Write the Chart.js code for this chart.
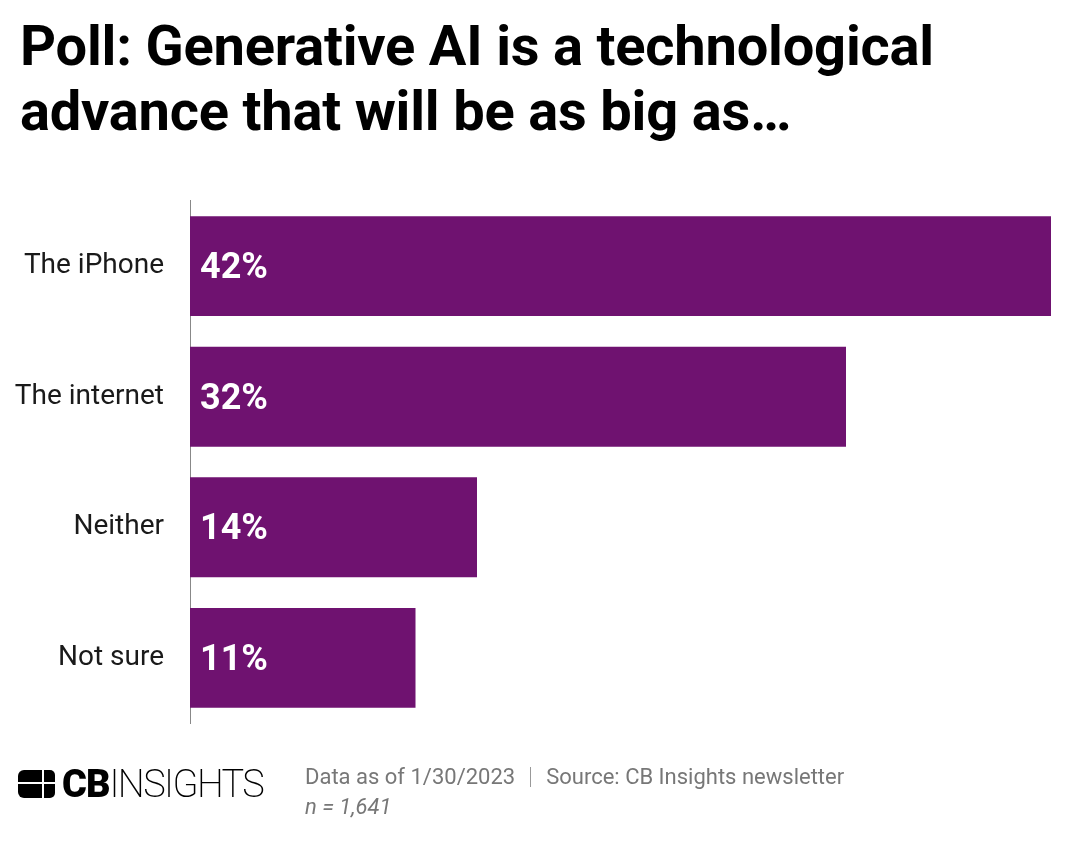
<!DOCTYPE html>
<html>
<head>
<meta charset="utf-8">
<script src="https://cdn.jsdelivr.net/npm/chart.js@4"></script>
<style>
  html, body { margin: 0; padding: 0; background: #fff; }
  body { width: 1080px; height: 845px; position: relative; overflow: hidden; font-family: Roboto, "Noto Sans", sans-serif; }
  #title { position: absolute; left: 20px; top: 14px; margin: 0; font-size: 56px; font-weight: 700; line-height: 65px; color: #000; letter-spacing: -0.2px; }
  #chart-wrap { position: absolute; left: 0; top: 158px; width: 1080px; height: 608px; }
  #logo { position: absolute; left: 18px; top: 765px; height: 38px; display: flex; align-items: center; }
  #logo .icon { width: 37px; height: 28px; position: relative; margin-right: 7px; }
  #logo .icon span { position: absolute; background: #000; }
  #logo .word { font-size: 38px; letter-spacing: -1px; color: #000; line-height: 38px; }
  #logo .word b { font-weight: 900; }
  #logo .word span { font-weight: 200; letter-spacing: -1.6px; }
  #note { position: absolute; left: 305px; top: 762px; font-size: 22px; color: #777; line-height: 30px; }
  #note .sep { display: inline-block; width: 1px; height: 20px; background: #999; margin: 0 15px; vertical-align: -3px; }
</style>
</head>
<body>
<h1 id="title">Poll: Generative AI is a technological<br>advance that will be as big as…</h1>
<div id="chart-wrap"><canvas id="poll-chart"></canvas></div>
<div id="logo">
  <div class="icon">
    <span style="left:0;top:0;width:24px;height:12px;border-top-left-radius:6px;"></span>
    <span style="left:26px;top:0;width:11px;height:12px;border-top-right-radius:5px;"></span>
    <span style="left:0;top:14px;width:24px;height:14px;border-bottom-left-radius:6px;"></span>
    <span style="left:26px;top:14px;width:11px;height:14px;border-bottom-right-radius:5px;"></span>
  </div>
  <div class="word"><b>CB</b><span>INSIGHTS</span></div>
</div>
<div id="note">Data as of 1/30/2023<span class="sep"></span>Source: CB Insights newsletter<br><i>n = 1,641</i></div>
<script>
const categories = ['The iPhone', 'The internet', 'Neither', 'Not sure'];
const shares = [42, 32, 14, 11];
const barColor = '#6f1270';

// white percentage labels inside the bars
const valueLabels = {
    id: 'valueLabels',
    afterDatasetsDraw(chart) {
        const ctx = chart.ctx;
        const meta = chart.getDatasetMeta(0);
        ctx.save();
        ctx.fillStyle = '#fff';
        ctx.font = '700 36px Roboto';
        ctx.textAlign = 'left';
        ctx.textBaseline = 'middle';
        meta.data.forEach((bar, i) => {
            ctx.fillText(shares[i] + '%', chart.chartArea.left + 10, bar.y + 3);
        });
        ctx.restore();
    }
};

new Chart(document.getElementById('poll-chart'), {
    type: 'bar',
    data: {
        labels: categories,
        datasets: [{
            data: shares,
            backgroundColor: barColor,
            borderWidth: 0,
            barPercentage: 0.765,
            categoryPercentage: 1
        }]
    },
    options: {
        indexAxis: 'y',
        responsive: true,
        maintainAspectRatio: false,
        animation: false,
        layout: { padding: { top: 18, bottom: 3, right: 29, left: 0 } },
        plugins: { legend: { display: false }, tooltip: { enabled: false } },
        scales: {
            x: { display: false, min: 0, max: 42 },
            y: {
                afterFit(scale) { scale.width = 190; },
                grid: { display: false, drawTicks: false },
                border: { display: true, color: '#888', width: 1 },
                ticks: { color: '#1a1a1a', padding: 26, font: { family: 'Roboto', size: 28 } }
            }
        }
    },
    plugins: [valueLabels]
});
</script>
</body>
</html>
